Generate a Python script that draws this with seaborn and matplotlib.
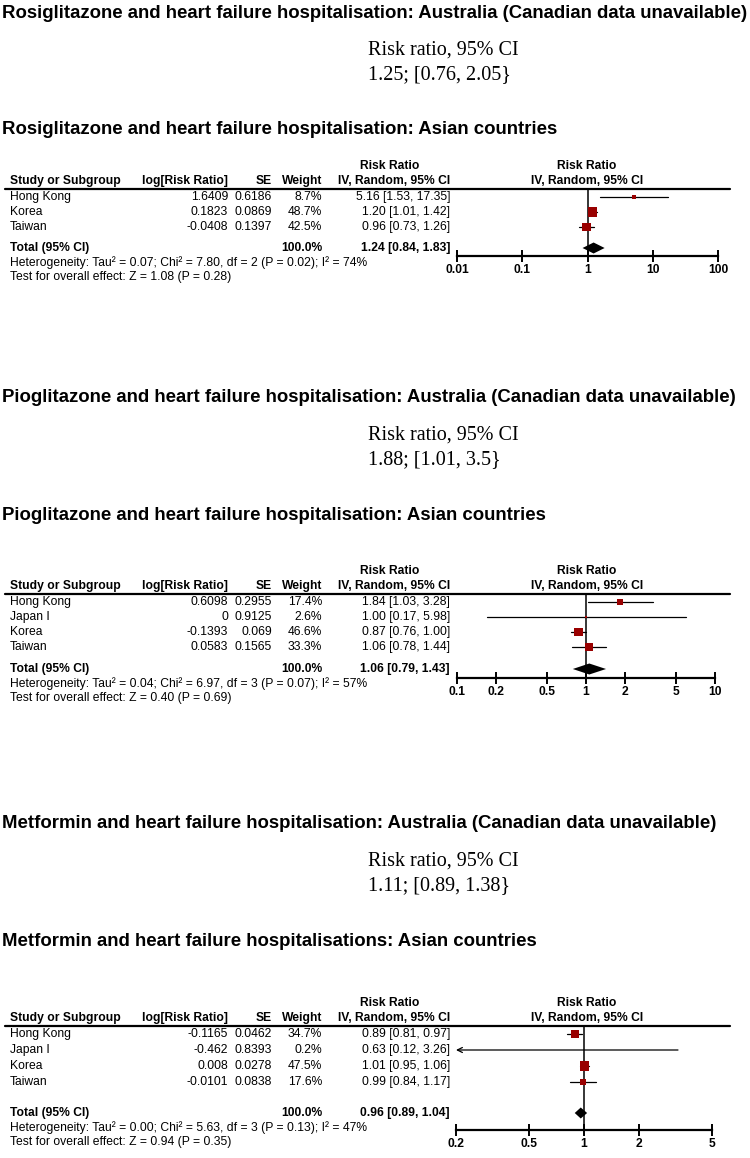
import numpy as np
import matplotlib
matplotlib.use("Agg")
import matplotlib.pyplot as plt
from matplotlib.ticker import NullLocator
import seaborn as sns

# ---------------- data ----------------
# Rosiglitazone
ros_aus = "1.25; [0.76, 2.05}"
ros_study = ["Hong Kong", "Korea", "Taiwan"]
ros_logrr = [1.6409, 0.1823, -0.0408]
ros_se = [0.6186, 0.0869, 0.1397]
ros_weight = [8.7, 48.7, 42.5]
ros_rr = [5.16, 1.20, 0.96]
ros_lo = [1.53, 1.01, 0.73]
ros_hi = [17.35, 1.42, 1.26]
ros_total = [1.24, 0.84, 1.83]
ros_het = "Heterogeneity: Tau\u00b2 = 0.07; Chi\u00b2 = 7.80, df = 2 (P = 0.02); I\u00b2 = 74%"
ros_test = "Test for overall effect: Z = 1.08 (P = 0.28)"
ros_ticks = [0.01, 0.1, 1, 10, 100]
ros_ticklabels = ["0.01", "0.1", "1", "10", "100"]

# Pioglitazone
pio_aus = "1.88; [1.01, 3.5}"
pio_study = ["Hong Kong", "Japan I", "Korea", "Taiwan"]
pio_logrr = [0.6098, 0, -0.1393, 0.0583]
pio_se = [0.2955, 0.9125, 0.069, 0.1565]
pio_weight = [17.4, 2.6, 46.6, 33.3]
pio_rr = [1.84, 1.00, 0.87, 1.06]
pio_lo = [1.03, 0.17, 0.76, 0.78]
pio_hi = [3.28, 5.98, 1.00, 1.44]
pio_total = [1.06, 0.79, 1.43]
pio_het = "Heterogeneity: Tau\u00b2 = 0.04; Chi\u00b2 = 6.97, df = 3 (P = 0.07); I\u00b2 = 57%"
pio_test = "Test for overall effect: Z = 0.40 (P = 0.69)"
pio_ticks = [0.1, 0.2, 0.5, 1, 2, 5, 10]
pio_ticklabels = ["0.1", "0.2", "0.5", "1", "2", "5", "10"]

# Metformin
met_aus = "1.11; [0.89, 1.38}"
met_study = ["Hong Kong", "Japan I", "Korea", "Taiwan"]
met_logrr = [-0.1165, -0.462, 0.008, -0.0101]
met_se = [0.0462, 0.8393, 0.0278, 0.0838]
met_weight = [34.7, 0.2, 47.5, 17.6]
met_rr = [0.89, 0.63, 1.01, 0.99]
met_lo = [0.81, 0.12, 0.95, 0.84]
met_hi = [0.97, 3.26, 1.06, 1.17]
met_total = [0.96, 0.89, 1.04]
met_het = "Heterogeneity: Tau\u00b2 = 0.00; Chi\u00b2 = 5.63, df = 3 (P = 0.13); I\u00b2 = 47%"
met_test = "Test for overall effect: Z = 0.94 (P = 0.35)"
met_ticks = [0.2, 0.5, 1, 2, 5]
met_ticklabels = ["0.2", "0.5", "1", "2", "5"]

# ---------------- style ----------------
sns.set_style("white")
plt.rcParams["font.family"] = ["Liberation Sans", "DejaVu Sans"]
plt.rcParams["text.color"] = "black"
plt.rcParams["xtick.color"] = "black"
SERIF = ["Liberation Serif", "DejaVu Serif"]
RED = "#990000"

W, H = 750, 1158
fig = plt.figure(figsize=(7.5, 11.58), dpi=100)
bg = fig.add_axes([0, 0, 1, 1])
bg.set_xlim(0, W)
bg.set_ylim(H, 0)
bg.axis("off")


def section(drug, plural, aus, y_top, study, logrr, se, weight, rr, lo, hi, total,
            het, test, ticks, ticklabels, y_head, step, total_gap, axis_gap, x_ax):
    # titles and Australian estimate
    bg.text(2, y_top, f"{drug} and heart failure hospitalisation: Australia (Canadian data unavailable)",
            fontsize=13.4, fontweight="bold", va="center")
    bg.text(368, y_top + 37, "Risk ratio, 95% CI", family=SERIF, fontsize=14.5, va="center")
    bg.text(368, y_top + 62, aus, family=SERIF, fontsize=14.5, va="center")
    bg.text(2, y_top + 117, f"{drug} and heart failure {plural}: Asian countries",
            fontsize=13.4, fontweight="bold", va="center")

    # table header
    fs = 8.7
    hb = dict(fontsize=fs, fontweight="bold", va="center")
    bg.text(390, y_head - 15, "Risk Ratio", ha="center", **hb)
    bg.text(10, y_head, "Study or Subgroup", **hb)
    bg.text(228, y_head, "log[Risk Ratio]", ha="right", **hb)
    bg.text(272, y_head, "SE", ha="right", **hb)
    bg.text(322, y_head, "Weight", ha="right", **hb)
    bg.text(450, y_head, "IV, Random, 95% CI", ha="right", **hb)
    bg.text(587, y_head - 15, "Risk Ratio", ha="center", **hb)
    bg.text(587, y_head, "IV, Random, 95% CI", ha="center", **hb)
    y_line = y_head + 8
    bg.plot([5, 730], [y_line, y_line], color="black", lw=1.6)

    rows = y_line + 8 + step * np.arange(len(study))
    y_tot = rows[-1] + total_gap
    y_axis = y_tot + axis_gap

    for i, name in enumerate(study):
        y = rows[i]
        bg.text(10, y, name, fontsize=fs, va="center")
        bg.text(228, y, f"{logrr[i]:g}", fontsize=fs, va="center", ha="right")
        bg.text(272, y, f"{se[i]:g}", fontsize=fs, va="center", ha="right")
        bg.text(322, y, f"{weight[i]:.1f}%", fontsize=fs, va="center", ha="right")
        bg.text(450, y, f"{rr[i]:.2f} [{lo[i]:.2f}, {hi[i]:.2f}]", fontsize=fs, va="center", ha="right")
    bg.text(10, y_tot, "Total (95% CI)", **hb)
    bg.text(322, y_tot, "100.0%", ha="right", **hb)
    bg.text(450, y_tot, f"{total[0]:.2f} [{total[1]:.2f}, {total[2]:.2f}]", ha="right", **hb)
    bg.text(10, y_tot + 15, het, fontsize=fs, va="center")
    bg.text(10, y_tot + 29, test, fontsize=fs, va="center")

    # forest panel
    x0, x1 = x_ax
    ax = fig.add_axes([x0 / W, 1 - y_axis / H, (x1 - x0) / W, (y_axis - y_line) / H])
    ax.patch.set_alpha(0)
    ax.set_xscale("log")
    ax.set_xlim(ticks[0], ticks[-1])
    ax.set_ylim(y_axis, y_line)
    ax.axvline(1, color="black", lw=1.1, zorder=1)

    for i in range(len(study)):
        if lo[i] < ticks[0]:
            ax.annotate("", xy=(ticks[0], rows[i]), xytext=(hi[i], rows[i]),
                        arrowprops=dict(arrowstyle="->", lw=0.9, color="black",
                                        shrinkA=0, shrinkB=0, mutation_scale=9))
        else:
            ax.plot([lo[i], hi[i]], [rows[i], rows[i]], color="black", lw=0.9, zorder=2)
    sns.scatterplot(x=rr, y=rows, size=weight, sizes=(0, 90), size_norm=(0, 100),
                    marker="s", color=RED, linewidth=0, legend=False, ax=ax, zorder=3)
    ax.fill([total[1], total[0], total[2], total[0]],
            [y_tot, y_tot - 5.5, y_tot, y_tot + 5.5], color="black", zorder=4, lw=0)

    ax.set_xticks(ticks)
    ax.set_xticklabels(ticklabels, fontweight="bold")
    ax.xaxis.set_minor_locator(NullLocator())
    ax.set_yticks([])
    ax.set_ylabel("")
    for s in ["top", "left", "right"]:
        ax.spines[s].set_visible(False)
    ax.spines["bottom"].set_linewidth(1.6)
    ax.spines["bottom"].set_color("black")
    ax.tick_params(axis="x", direction="inout", length=9, width=1.4, labelsize=8.7,
                   pad=1, colors="black", bottom=True)


section("Rosiglitazone", "hospitalisation", ros_aus, 13, ros_study, ros_logrr, ros_se,
        ros_weight, ros_rr, ros_lo, ros_hi, ros_total, ros_het, ros_test,
        ros_ticks, ros_ticklabels, y_head=181, step=15, total_gap=21, axis_gap=8,
        x_ax=(457, 718))
section("Pioglitazone", "hospitalisation", pio_aus, 398, pio_study, pio_logrr, pio_se,
        pio_weight, pio_rr, pio_lo, pio_hi, pio_total, pio_het, pio_test,
        pio_ticks, pio_ticklabels, y_head=586, step=15, total_gap=22, axis_gap=9,
        x_ax=(457, 715))
section("Metformin", "hospitalisations", met_aus, 824, met_study, met_logrr, met_se,
        met_weight, met_rr, met_lo, met_hi, met_total, met_het, met_test,
        met_ticks, met_ticklabels, y_head=1018, step=16, total_gap=31, axis_gap=17,
        x_ax=(456, 712))

fig.savefig("out.png", dpi=100)
